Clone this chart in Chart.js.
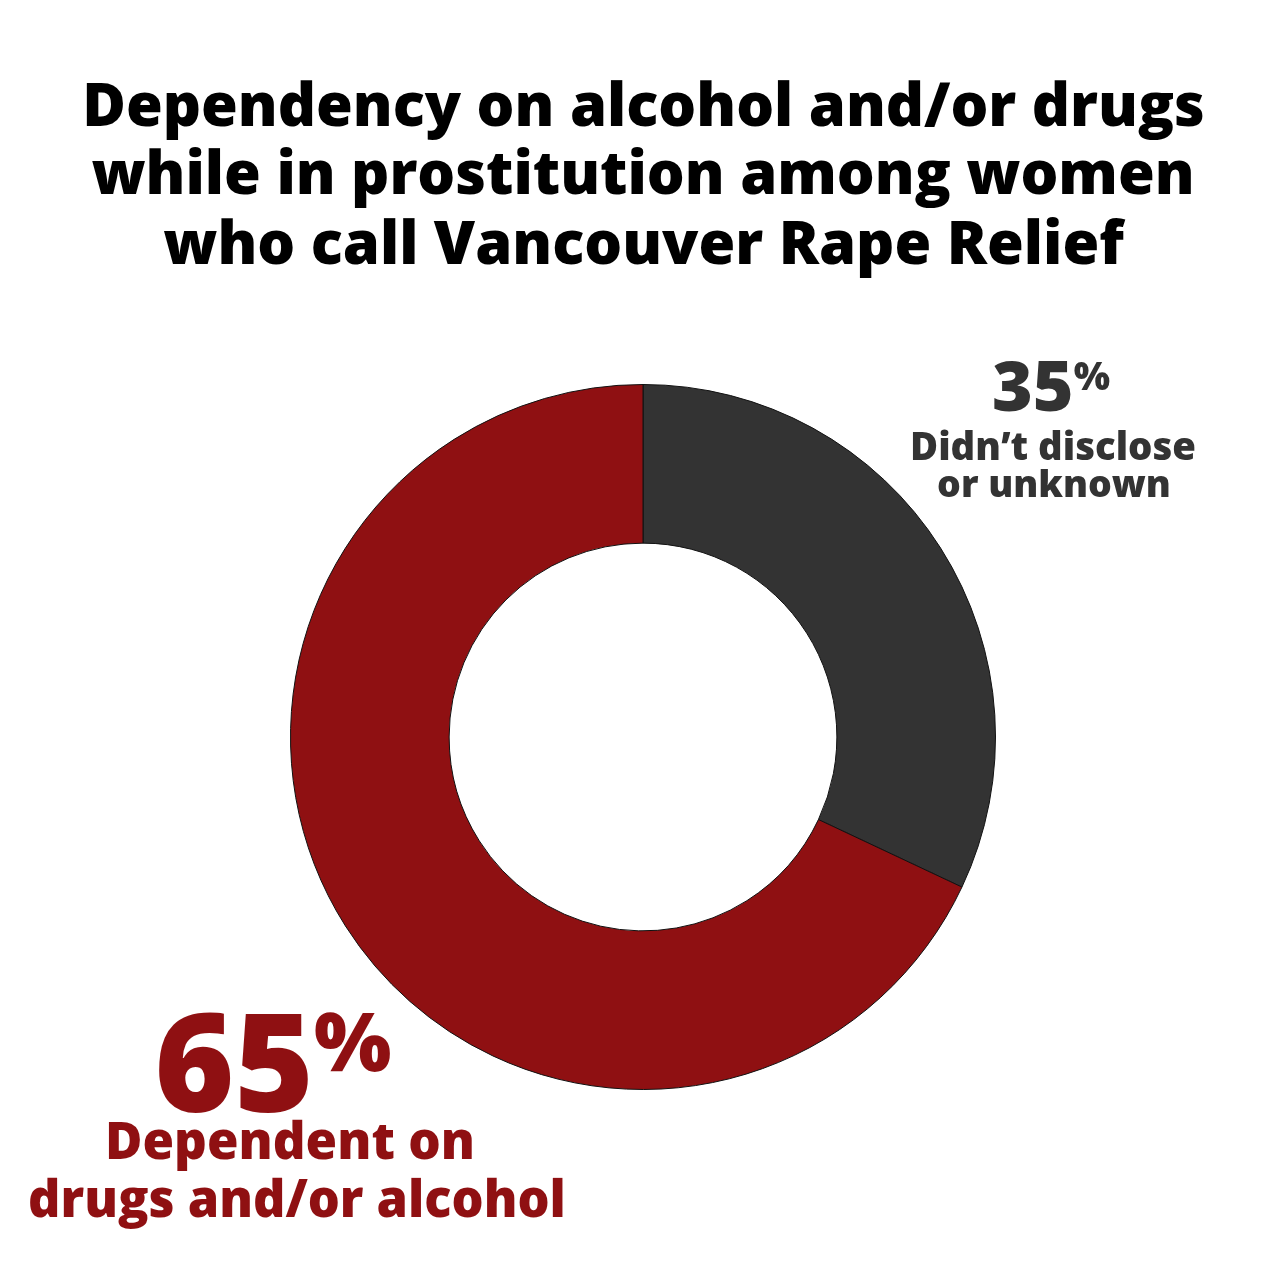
<!DOCTYPE html>
<html>
<head>
<meta charset="utf-8">
<script src="https://cdn.jsdelivr.net/npm/chart.js@4/dist/chart.umd.min.js"></script>
<style>
  html, body { margin: 0; padding: 0; background: #ffffff; }
  #wrap { position: relative; width: 1286px; height: 1286px; overflow: hidden; }
  #grafico { position: absolute; left: 0; top: 0; }
  .txt { position: absolute; white-space: nowrap; font-family: "Open Sans", sans-serif; font-weight: 800; }
  .sup { position: relative; }
</style>
</head>
<body>
<div id="wrap">
  <canvas id="grafico" width="1286" height="1286"></canvas>
</div>
<script>
// dados
const titleLines = [
    'Dependency on alcohol and/or drugs',
    'while in prostitution among women',
    'who call Vancouver Rape Relief'
];
const categories = ['Didn’t disclose or unknown', 'Dependent on drugs and/or alcohol'];
const values = [32, 68];          // arc shares as drawn in the picture
const pctLabels = ['35', '65'];   // printed percentages
const labelLines = [
    ['Didn’t disclose', 'or unknown'],
    ['Dependent on', 'drugs and/or alcohol']
];
const colors = ['#333333', '#8f1012'];

const wrap = document.getElementById('wrap');
const meas = document.createElement('canvas').getContext('2d');

// coloca uma linha de texto pelo centro x e pela linha de base
function putText(html, cx, baseline, width, color, size) {
    const el = document.createElement('div');
    el.className = 'txt';
    el.innerHTML = html;
    el.style.color = color;
    el.style.fontSize = '100px';
    el.style.lineHeight = '100px';
    wrap.appendChild(el);
    if (width) {
        size = 100 * width / el.getBoundingClientRect().width;
    }
    el.style.fontSize = size + 'px';
    el.style.lineHeight = size + 'px';
    meas.font = '800 ' + size + 'px "Open Sans"';
    const m = meas.measureText('H');
    const asc = m.fontBoundingBoxAscent, desc = m.fontBoundingBoxDescent;
    const fromTop = (size - (asc + desc)) / 2 + asc;
    el.style.top = (baseline - fromTop) + 'px';
    el.style.left = (cx - el.getBoundingClientRect().width / 2) + 'px';
    return size;
}

// título
const titleSize = putText(titleLines[0], 643.5, 126, 1123, '#000000');
putText(titleLines[1], 643, 194, null, '#000000', titleSize);
putText(titleLines[2], 643.5, 264, null, '#000000', titleSize);

// rótulos das fatias
putText(pctLabels[0] + '<span class="sup" style="font-size:.55em;top:-.55em">%</span>', 1051, 412, 118, colors[0]);
putText(labelLines[0][0], 1053, 460, 286, colors[0]);
putText(labelLines[0][1], 1054, 497, 234, colors[0]);

putText(pctLabels[1] + '<span class="sup" style="font-size:.6em;top:-.5em">%</span>', 273, 1112, 237, colors[1]);
putText(labelLines[1][0], 290, 1160, 370, colors[1]);
putText(labelLines[1][1], 297, 1218, 538, colors[1]);

const data = {
    labels: categories,
    datasets: [{
        data: values,
        backgroundColor: colors,
        borderColor: '#111111',
        borderWidth: 1
    }]
};

const config = {
    type: 'doughnut',
    data: data,
    options: {
        responsive: false,
        animation: false,
        cutout: '55%',
        layout: {
            padding: { left: 290, right: 290, top: 384, bottom: 196 }
        },
        plugins: {
            legend: { display: false },
            tooltip: { enabled: false }
        }
    }
};

const ctx = document.getElementById('grafico').getContext('2d');
const myChart = new Chart(ctx, config);
</script>
</body>
</html>
